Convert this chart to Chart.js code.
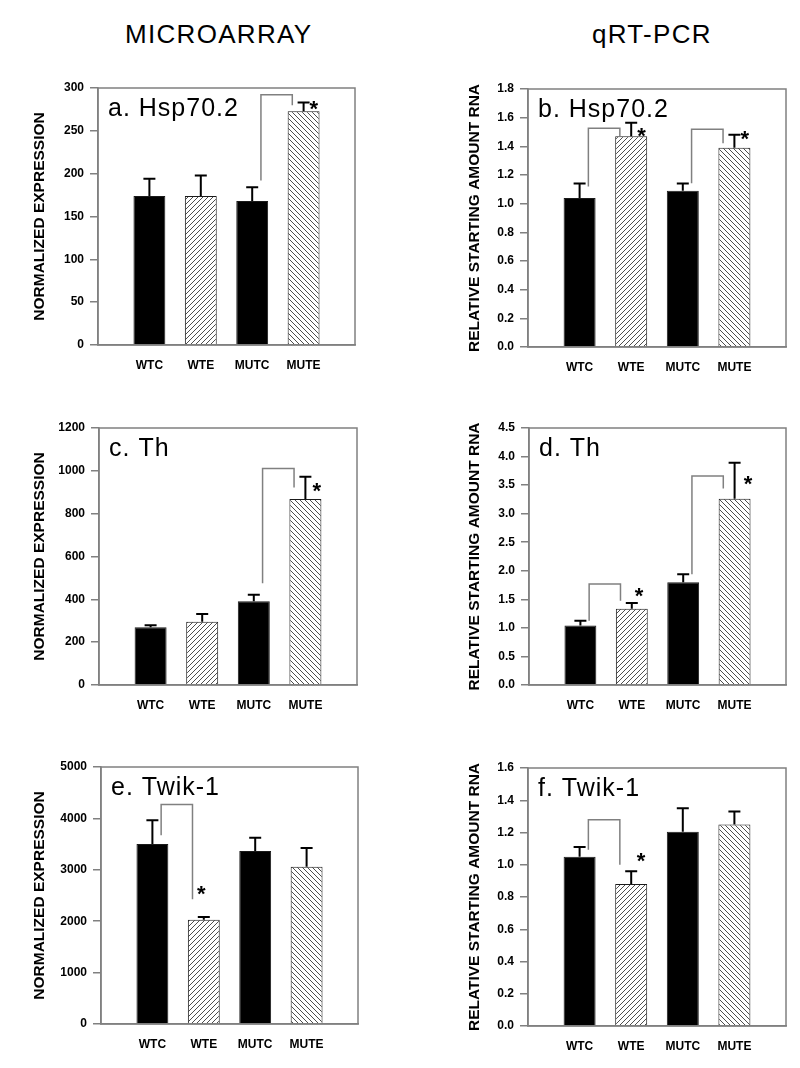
<!DOCTYPE html>
<html>
<head>
<meta charset="utf-8">
<script src="https://cdn.jsdelivr.net/npm/chart.js@4.4.0/dist/chart.umd.min.js"></script>
<style>
  body { margin: 0; background: #fff; }
  #page { position: relative; width: 800px; height: 1068px; font-family: "Liberation Sans", Arial, sans-serif; }
  .head { position: absolute; top: 19px; font-size: 26px; letter-spacing: 1.3px; color: #000; white-space: nowrap; }
  canvas { position: absolute; }
</style>
</head>
<body>
<div id="page">
  <div class="head" style="left:125px">MICROARRAY</div>
  <div class="head" style="left:592px">qRT-PCR</div>
  <canvas id="pa" width="400" height="330" style="left:0;top:50px"></canvas>
  <canvas id="pb" width="400" height="330" style="left:400px;top:50px"></canvas>
  <canvas id="pc" width="400" height="330" style="left:0;top:390px"></canvas>
  <canvas id="pd" width="400" height="330" style="left:400px;top:390px"></canvas>
  <canvas id="pe" width="400" height="330" style="left:0;top:730px"></canvas>
  <canvas id="pf" width="400" height="330" style="left:400px;top:730px"></canvas>
</div>
<script>
var groups = ["WTC", "WTE", "MUTC", "MUTE"];

// a. Hsp70.2, microarray
var hspArrMean = [174, 174, 168, 273];
var hspArrErr = [20, 24, 16, 10];
// b. Hsp70.2, qRT-PCR
var hspPcrMean = [1.04, 1.47, 1.09, 1.39];
var hspPcrErr = [0.10, 0.095, 0.05, 0.09];
// c. Th, microarray
var thArrMean = [270, 295, 391, 868];
var thArrErr = [9, 37, 30, 104];
// d. Th, qRT-PCR
var thPcrMean = [1.04, 1.335, 1.80, 3.26];
var thPcrErr = [0.085, 0.10, 0.14, 0.63];
// e. Twik-1, microarray
var twikArrMean = [3500, 2030, 3365, 3060];
var twikArrErr = [465, 52, 257, 363];
// f. Twik-1, qRT-PCR
var twikPcrMean = [1.05, 0.88, 1.205, 1.25];
var twikPcrErr = [0.06, 0.08, 0.145, 0.08];

// significance brackets: [from group, to group, y start, y top, y end, star at group, star y]
var hspArrSig = [[2, 3, 192, 292, 280, 3.2, 282]];
var hspPcrSig = [[0, 1, 1.12, 1.527, 1.469, 1.2, 1.515], [2, 3, 1.142, 1.52, 1.422, 3.2, 1.49]];
var thArrSig = [[2, 3, 475, 1011, 922, 3.22, 933]];
var thPcrSig = [[0, 1, 1.125, 1.77, 1.474, 1.14, 1.66], [2, 3, 1.94, 3.66, 3.44, 3.26, 3.63]];
var twikArrSig = [[0, 1, 3674, 4269, 2426, 0.95, 2639]];
var twikPcrSig = [[0, 1, 1.093, 1.279, 1.0, 1.19, 1.062]];

var FONT = '"Liberation Sans", Arial, sans-serif';
Chart.defaults.font.family = FONT;
Chart.defaults.color = "#000";

function hatch(dir) {
  var c = document.createElement("canvas");
  c.width = c.height = 5;
  var g = c.getContext("2d");
  g.fillStyle = "#fff";
  g.fillRect(0, 0, 5, 5);
  g.strokeStyle = "#3a3a3a";
  g.lineWidth = 0.9;
  g.beginPath();
  if (dir > 0) {
    g.moveTo(-1, 6); g.lineTo(6, -1);
    g.moveTo(-1, 1); g.lineTo(1, -1);
    g.moveTo(4, 6); g.lineTo(6, 4);
  } else {
    g.moveTo(-1, -1); g.lineTo(6, 6);
    g.moveTo(4, -1); g.lineTo(6, 1);
    g.moveTo(-1, 4); g.lineTo(1, 6);
  }
  g.stroke();
  return g.createPattern(c, "repeat");
}
var fwd = hatch(1), back = hatch(-1);
var barColors = ["#000", fwd, "#000", back];

var extras = {
  id: "extras",
  afterDatasetsDraw: function (chart) {
    var p = chart.options.plugins.extras;
    var ctx = chart.ctx, x = chart.scales.x, y = chart.scales.y;
    var step = x.getPixelForValue(2) - x.getPixelForValue(1);
    var gx = function (g) { return x.getPixelForValue(1) + g * step; };
    ctx.save();
    // error bars
    ctx.strokeStyle = "#000";
    ctx.lineWidth = 2;
    p.mean.forEach(function (m, i) {
      var px = x.getPixelForValue(i + 1);
      var y0 = y.getPixelForValue(m), y1 = y.getPixelForValue(m + p.err[i]);
      ctx.beginPath();
      ctx.moveTo(px, y0); ctx.lineTo(px, y1);
      ctx.moveTo(px - 6, y1); ctx.lineTo(px + 6, y1);
      ctx.stroke();
    });
    // brackets and stars
    p.sig.forEach(function (s) {
      var xa = gx(s[0] + 0.17);
      var xb = gx(s[1] - 0.22);
      ctx.strokeStyle = "#808080";
      ctx.lineWidth = 1.5;
      ctx.beginPath();
      ctx.moveTo(xa, y.getPixelForValue(s[2]));
      ctx.lineTo(xa, y.getPixelForValue(s[3]));
      ctx.lineTo(xb, y.getPixelForValue(s[3]));
      ctx.lineTo(xb, y.getPixelForValue(s[4]));
      ctx.stroke();
      ctx.fillStyle = "#000";
      ctx.font = "bold 22px " + FONT;
      ctx.textAlign = "center";
      ctx.textBaseline = "alphabetic";
      ctx.fillText("*", gx(s[5]), y.getPixelForValue(s[6]) + 13);
    });
    ctx.restore();
  },
  afterDraw: function (chart) {
    var p = chart.options.plugins.extras;
    var ctx = chart.ctx, ca = chart.chartArea;
    ctx.save();
    ctx.strokeStyle = "#808080";
    ctx.lineWidth = 1.5;
    ctx.strokeRect(ca.left, ca.top, ca.right - ca.left, ca.bottom - ca.top);
    ctx.fillStyle = "#000";
    ctx.font = "25px " + FONT;
    ctx.letterSpacing = "1px";
    ctx.textAlign = "left";
    ctx.textBaseline = "alphabetic";
    ctx.fillText(p.label, ca.left + 10, ca.top + 28);
    ctx.restore();
  }
};

function panel(id, label, mean, err, sig, max, step, yTitle, box, decimals) {
  // box: [y axis width, padding top, padding right, padding bottom, title offset]
  new Chart(id, {
    type: "bar",
    data: {
      labels: [""].concat(groups, [""]),
      datasets: [{
        data: [null].concat(mean, [null]),
        backgroundColor: [null].concat(barColors, [null]),
        borderColor: "#1a1a1a",
        borderWidth: 1,
        categoryPercentage: 1,
        barPercentage: 0.62
      }]
    },
    options: {
      responsive: false,
      animation: false,
      layout: { padding: { left: 0, top: box[1], right: box[2], bottom: box[3] } },
      plugins: {
        legend: { display: false },
        tooltip: { enabled: false },
        extras: { label: label, mean: mean, err: err, sig: sig }
      },
      scales: {
        x: {
          offset: false,
          grid: { drawOnChartArea: false, drawTicks: false },
          border: { color: "#808080", width: 1.5 },
          ticks: { autoSkip: false, maxRotation: 0, padding: 13, font: { size: 12, weight: "bold" } },
          afterFit: function (s) { s.height = 30; }
        },
        y: {
          min: 0,
          max: max,
          grid: { drawOnChartArea: false, drawTicks: true, tickLength: 8, color: "#808080", lineWidth: 1.5 },
          border: { color: "#808080", width: 1.5 },
          ticks: {
            stepSize: step,
            padding: 6,
            font: { size: 12, weight: "bold" },
            callback: function (v) { return v.toFixed(decimals); }
          },
          title: {
            display: true,
            text: yTitle,
            font: { size: 15.5, weight: "bold" },
            padding: { top: box[4], bottom: 0 }
          },
          afterFit: function (s) { s.width = box[0]; }
        }
      }
    },
    plugins: [extras]
  });
}

var NE = "NORMALIZED EXPRESSION", RS = "RELATIVE STARTING AMOUNT RNA";
panel("pa", "a. Hsp70.2", hspArrMean, hspArrErr, hspArrSig, 300, 50, NE, [98, 38, 45, 5, 30], 0);
panel("pb", "b. Hsp70.2", hspPcrMean, hspPcrErr, hspPcrSig, 1.8, 0.2, RS, [128, 39, 14, 3, 65], 1);
panel("pc", "c. Th", thArrMean, thArrErr, thArrSig, 1200, 200, NE, [99, 38, 43, 5, 30], 0);
panel("pd", "d. Th", thPcrMean, thPcrErr, thPcrSig, 4.5, 0.5, RS, [129, 38, 14, 5, 65], 1);
panel("pe", "e. Twik-1", twikArrMean, twikArrErr, twikArrSig, 5000, 1000, NE, [101, 37, 42, 6, 30], 0);
panel("pf", "f. Twik-1", twikPcrMean, twikPcrErr, twikPcrSig, 1.6, 0.2, RS, [128, 38, 14, 4, 65], 1);
</script>
</body>
</html>
